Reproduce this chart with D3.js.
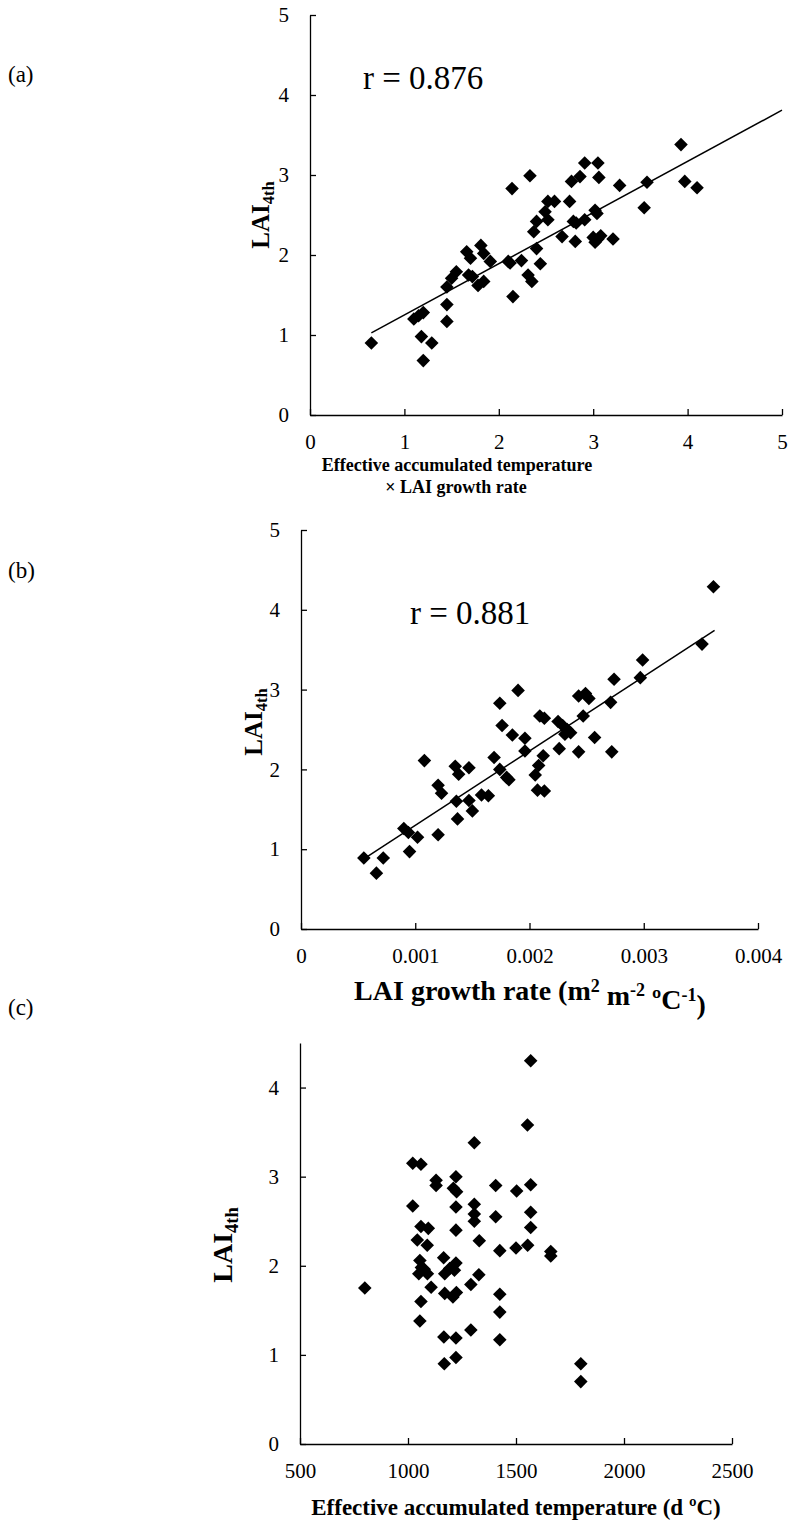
<!DOCTYPE html>
<html>
<head>
<meta charset="utf-8">
<script src="https://cdn.jsdelivr.net/npm/d3@7"></script>
<style>
  body { margin: 0; background: #fff; }
  svg { display: block; }
  text { font-family: "Liberation Serif", "Times New Roman", serif; fill: #000; }
</style>
</head>
<body>
<svg id="chart" width="789" height="1521"></svg>
<script>
// (a) LAI4th vs effective accumulated temperature x LAI growth rate
const aX = [0.65, 1.10, 1.15, 1.20, 1.18, 1.29, 1.20, 1.45, 1.45, 1.45, 1.50, 1.55, 1.68, 1.72, 1.66, 1.70,
  1.81, 1.84, 1.91, 1.78, 1.84, 2.10, 2.12, 2.24, 2.15, 2.14, 2.33, 2.40, 2.44, 2.31, 2.35, 2.37, 2.40,
  2.49, 2.52, 2.59, 2.52, 2.67, 2.75, 2.79, 2.82, 2.91, 2.81, 2.77, 2.86, 2.91, 3.05, 3.06, 3.02, 3.04,
  3.00, 3.05, 3.02, 3.08, 3.21, 3.28, 3.57, 3.54, 3.93, 3.97, 4.10];
const aY = [0.90, 1.20, 1.24, 1.28, 0.98, 0.90, 0.68, 1.17, 1.38, 1.60, 1.71, 1.79, 1.75, 1.73, 2.04, 1.96,
  2.12, 2.02, 1.92, 1.62, 1.67, 1.92, 1.90, 1.93, 1.48, 2.83, 2.99, 2.08, 1.89, 1.75, 1.67, 2.29, 2.42,
  2.54, 2.67, 2.67, 2.44, 2.23, 2.67, 2.42, 2.40, 2.44, 2.17, 2.92, 2.98, 3.15, 3.15, 2.97, 2.56, 2.52,
  2.22, 2.20, 2.16, 2.24, 2.20, 2.87, 2.91, 2.59, 3.38, 2.92, 2.84];
const aTrend = { slope: 0.64, intercept: 0.61, from: 0.65, to: 5 };
const aXTicks = [0, 1, 2, 3, 4, 5];
const aYTicks = [0, 1, 2, 3, 4, 5];

// (b) LAI4th vs LAI growth rate
const bX = [0.00055, 0.00072, 0.00066, 0.00090, 0.00094, 0.00102, 0.00095, 0.00108, 0.00120, 0.00120,
  0.00123, 0.00135, 0.00138, 0.00147, 0.00136, 0.00137, 0.00147, 0.00150, 0.00158, 0.00164, 0.00169,
  0.00174, 0.00180, 0.00182, 0.00174, 0.00190, 0.00176, 0.00185, 0.00196, 0.00196, 0.00209, 0.00213,
  0.00205, 0.00208, 0.00212, 0.00207, 0.00213, 0.00225, 0.00229, 0.00233, 0.00236, 0.00231, 0.00226,
  0.00243, 0.00247, 0.00243, 0.00249, 0.00252, 0.00257, 0.00271, 0.00272, 0.00274, 0.00297, 0.00299,
  0.00351, 0.00361];
const bY = [0.89, 0.89, 0.70, 1.26, 1.21, 1.15, 0.97, 2.11, 1.18, 1.80, 1.70, 2.04, 1.94, 2.02, 1.60,
  1.38, 1.61, 1.48, 1.68, 1.67, 2.15, 2.00, 1.90, 1.87, 2.83, 2.99, 2.55, 2.43, 2.39, 2.23, 2.67, 2.64,
  1.93, 2.05, 2.17, 1.74, 1.73, 2.60, 2.55, 2.50, 2.46, 2.44, 2.26, 2.22, 2.67, 2.92, 2.95, 2.89, 2.40,
  2.84, 2.22, 3.13, 3.15, 3.37, 3.57, 4.29];
const bTrend = { slope: 932, intercept: 0.367, from: 0.00055, to: 0.00362 };
const bXTicks = [0, 0.001, 0.002, 0.003, 0.004];
const bYTicks = [0, 1, 2, 3, 4, 5];

// (c) LAI4th vs effective accumulated temperature
const cX = [800, 1568, 1553, 1307, 1022, 1060, 1130, 1130, 1222, 1210, 1225, 1406, 1503, 1568, 1022, 1222,
  1307, 1307, 1307, 1406, 1568, 1568, 1060, 1094, 1222, 1043, 1089, 1330, 1425, 1500, 1554, 1661, 1661,
  1055, 1050, 1075, 1090, 1062, 1165, 1222, 1170, 1193, 1215, 1328, 1291, 1107, 1170, 1208, 1224, 1060,
  1425, 1425, 1055, 1291, 1166, 1222, 1425, 1168, 1222, 1800, 1800];
const cY = [1.75, 4.30, 3.58, 3.38, 3.15, 3.14, 2.96, 2.90, 3.00, 2.87, 2.83, 2.90, 2.84, 2.91, 2.67, 2.66,
  2.69, 2.58, 2.50, 2.55, 2.60, 2.43, 2.44, 2.42, 2.40, 2.29, 2.23, 2.28, 2.17, 2.20, 2.23, 2.16, 2.11,
  2.06, 1.91, 1.96, 1.91, 1.98, 2.09, 2.03, 1.91, 1.97, 1.95, 1.90, 1.79, 1.76, 1.69, 1.65, 1.70, 1.60,
  1.68, 1.48, 1.38, 1.28, 1.20, 1.19, 1.17, 0.90, 0.97, 0.90, 0.70];
const cXTicks = [500, 1000, 1500, 2000, 2500];
const cYTicks = [0, 1, 2, 3, 4];

const svg = d3.select('#chart');

function drawPanel(p) {
  const x = d3.scaleLinear().domain(p.xDomain).range([p.left, p.right]);
  const y = d3.scaleLinear().domain(p.yDomain).range([p.bottom, p.top]);
  const g = svg.append('g');

  // axes, ticks pointing inside like the original
  const xAxis = g.append('g')
    .attr('transform', `translate(0,${p.bottom})`)
    .call(d3.axisBottom(x).tickValues(p.xTicks).tickFormat(p.xFormat)
      .tickSizeInner(-6).tickSizeOuter(0).tickPadding(19));
  const yAxis = g.append('g')
    .attr('transform', `translate(${p.left},0)`)
    .call(d3.axisLeft(y).tickValues(p.yTicks).tickFormat(d3.format('d'))
      .tickSizeInner(-6).tickSizeOuter(0).tickPadding(21));
  [xAxis, yAxis].forEach(a => {
    a.selectAll('path, line').attr('stroke', '#000').attr('stroke-width', 1.3);
    a.selectAll('text').attr('font-size', 21).attr('font-family', '"Liberation Serif", serif').attr('fill', '#000');
  });

  // trend line
  if (p.trend) {
    const t = p.trend;
    g.append('path')
      .datum([t.from, t.to])
      .attr('fill', 'none')
      .attr('stroke', '#000')
      .attr('stroke-width', 1.5)
      .attr('d', d3.line().x(d => x(d)).y(d => y(t.slope * d + t.intercept)));
  }

  // diamond markers
  const diamond = d3.symbol().type(d3.symbolSquare).size(92);
  g.selectAll('.pt')
    .data(p.xs.map((v, i) => [v, p.ys[i]]))
    .enter()
    .append('path')
    .attr('class', 'pt')
    .attr('d', diamond)
    .attr('transform', d => `translate(${x(d[0])},${y(d[1])}) rotate(45)`)
    .attr('fill', '#000');

  // y label LAI4th
  const yl = g.append('text')
    .attr('transform', `translate(${p.yLabelX},${p.yLabelY}) rotate(-90)`)
    .attr('text-anchor', 'middle')
    .attr('font-weight', 'bold')
    .attr('font-size', p.yLabelSize);
  yl.append('tspan').text('LAI');
  yl.append('tspan').attr('dy', '0.3em').attr('font-size', p.yLabelSize * 0.66).text('4th');

  // panel letter
  g.append('text').attr('x', 8).attr('y', p.letterY).attr('font-size', 23).text(p.letter);

  if (p.r) {
    g.append('text').attr('x', p.r.x).attr('y', p.r.y).attr('font-size', 33).text(p.r.text);
  }
  return { x, y, g };
}

// (a)
const A = drawPanel({
  xs: aX, ys: aY, xDomain: [0, 5], yDomain: [0, 5], xTicks: aXTicks, yTicks: aYTicks,
  xFormat: d3.format('d'), left: 310, right: 782, top: 15, bottom: 415,
  trend: aTrend, yLabelX: 269, yLabelY: 215, yLabelSize: 25, letter: '(a)', letterY: 82,
  r: { x: 363, y: 89, text: 'r = 0.876' }
});
A.g.append('text').attr('x', 457).attr('y', 471).attr('text-anchor', 'middle')
  .attr('font-weight', 'bold').attr('font-size', 18).text('Effective accumulated temperature');
A.g.append('text').attr('x', 456).attr('y', 493).attr('text-anchor', 'middle')
  .attr('font-weight', 'bold').attr('font-size', 18).text('\u00d7 LAI growth rate');

// (b)
const B = drawPanel({
  xs: bX, ys: bY, xDomain: [0, 0.004], yDomain: [0, 5], xTicks: bXTicks, yTicks: bYTicks,
  xFormat: d => d === 0 ? '0' : d3.format('.3f')(d), left: 301, right: 758, top: 530, bottom: 929,
  trend: bTrend, yLabelX: 262, yLabelY: 722, yLabelSize: 25, letter: '(b)', letterY: 578,
  r: { x: 410, y: 624, text: 'r = 0.881' }
});
const bt = B.g.append('text').attr('x', 530).attr('y', 1000).attr('text-anchor', 'middle')
  .attr('font-weight', 'bold').attr('font-size', 28);
bt.append('tspan').text('LAI growth rate (m');
bt.append('tspan').attr('dy', '-0.45em').attr('font-size', 18).text('2');
bt.append('tspan').attr('dy', '0.45em').text(' m');
bt.append('tspan').attr('dy', '-0.45em').attr('font-size', 18).text('-2');
bt.append('tspan').attr('dy', '0.45em').text(' \u00baC');
bt.append('tspan').attr('dy', '-0.45em').attr('font-size', 18).text('-1');
bt.append('tspan').attr('dy', '0.45em').text(')');

// (c)
const C = drawPanel({
  xs: cX, ys: cY, xDomain: [500, 2500], yDomain: [0, 4.5], xTicks: cXTicks, yTicks: cYTicks,
  xFormat: d3.format('d'), left: 300, right: 732, top: 1043, bottom: 1444,
  trend: null, yLabelX: 232, yLabelY: 1245, yLabelSize: 28, letter: '(c)', letterY: 1015
});
C.g.append('text').attr('x', 516).attr('y', 1515).attr('text-anchor', 'middle')
  .attr('font-weight', 'bold').attr('font-size', 23).text('Effective accumulated temperature (d \u00baC)');
</script>
</body>
</html>
